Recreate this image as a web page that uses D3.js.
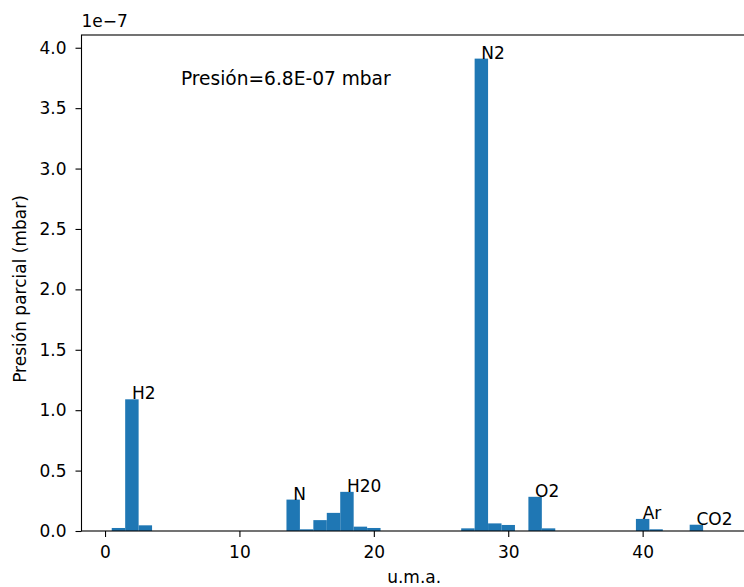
<!DOCTYPE html>
<html>
<head>
<meta charset="utf-8">
<script src="https://cdn.jsdelivr.net/npm/d3@7"></script>
<style>
  html, body { margin: 0; padding: 0; background: #fff; }
  svg text { font-family: "DejaVu Sans", sans-serif; fill: #000; }
</style>
</head>
<body>
<svg id="chart" width="744" height="587"></svg>
<script>
// Mass numbers (u.m.a.) and partial pressures, in units of 1e-7 mbar
const masses = d3.range(1, 46);
const pressures = [
  0.025, 1.09, 0.047, 0, 0, 0, 0, 0, 0, 0,
  0, 0, 0, 0.26, 0.014, 0.09, 0.15, 0.324, 0.036, 0.025,
  0, 0, 0, 0, 0, 0, 0.022, 3.91, 0.063, 0.05,
  0, 0.283, 0.022, 0, 0, 0, 0, 0, 0, 0.10,
  0.014, 0, 0, 0.052, 0
];
const SCALE = 1e-7;

// Species annotations placed at the top of their peak
const species = ["H2", "N", "H20", "N2", "O2", "Ar", "CO2"];
const speciesMass = [2, 14, 18, 28, 32, 40, 44];

const xTicks = [0, 10, 20, 30, 40];
const yTicks = [0, 0.5, 1.0, 1.5, 2.0, 2.5, 3.0, 3.5, 4.0];
const totalLabel = "Presión=6.8E-07 mbar";

const FS = 17;
const plotL = 81.5, plotR = 746.8, plotT = 35, plotB = 531;

const svg = d3.select("#chart");

const x = d3.scaleLinear().domain([-1.75, 47.75]).range([plotL, plotR]);
const yMax = d3.max(pressures) * 1.05;
const y = d3.scaleLinear().domain([0, yMax * SCALE]).range([plotB, plotT]);

const data = masses.map((m, i) => ({ m, v: pressures[i] * SCALE }));

// Bars, width 1 u.m.a. centred on each mass
svg.append("g")
  .selectAll("rect")
  .data(data.filter(d => d.v > 0))
  .join("rect")
  .attr("x", d => x(d.m - 0.5))
  .attr("width", d => x(d.m + 0.5) - x(d.m - 0.5))
  .attr("y", d => y(d.v))
  .attr("height", d => y(0) - y(d.v))
  .attr("fill", "#1f77b4");

// Species labels
const valueAt = m => pressures[masses.indexOf(m)] * SCALE;
svg.append("g")
  .selectAll("text")
  .data(species.map((s, i) => ({ s, m: speciesMass[i] })))
  .join("text")
  .attr("x", d => x(d.m))
  .attr("y", d => y(valueAt(d.m)))
  .attr("font-size", FS)
  .text(d => d.s);

// Axes
const xAxis = d3.axisBottom(x).tickValues(xTicks).tickSize(6).tickPadding(9)
  .tickFormat(d3.format("d"));
const yAxis = d3.axisLeft(y).tickValues(yTicks.map(v => v * SCALE))
  .tickSize(6).tickPadding(9)
  .tickFormat(v => (v / SCALE).toFixed(1));

const gx = svg.append("g").attr("transform", `translate(0,${plotB})`).call(xAxis);
const gy = svg.append("g").attr("transform", `translate(${plotL},0)`).call(yAxis);
[gx, gy].forEach(g => {
  g.select(".domain").remove();
  g.selectAll(".tick line").attr("stroke", "#000").attr("stroke-width", 1.1);
  g.selectAll(".tick text").attr("font-size", FS).attr("font-family", "DejaVu Sans").attr("fill", "#000");
});

// Frame
svg.append("rect")
  .attr("x", plotL).attr("y", plotT)
  .attr("width", plotR - plotL).attr("height", plotB - plotT)
  .attr("fill", "none").attr("stroke", "#000").attr("stroke-width", 1.1);

// Offset text for the y axis
svg.append("text").attr("x", plotL).attr("y", 27).attr("font-size", FS).text("1e\u22127");

// Total pressure note
svg.append("text").attr("x", x(5.65)).attr("y", y(3.69 * SCALE)).attr("font-size", 18.6).text(totalLabel);

// Axis titles
svg.append("text")
  .attr("x", (plotL + plotR) / 2).attr("y", 583)
  .attr("text-anchor", "middle").attr("font-size", FS)
  .text("u.m.a.");
svg.append("text")
  .attr("transform", `translate(26,${(plotT + plotB) / 2 + 6}) rotate(-90)`)
  .attr("text-anchor", "middle").attr("font-size", FS)
  .text("Presión parcial (mbar)");
</script>
</body>
</html>
